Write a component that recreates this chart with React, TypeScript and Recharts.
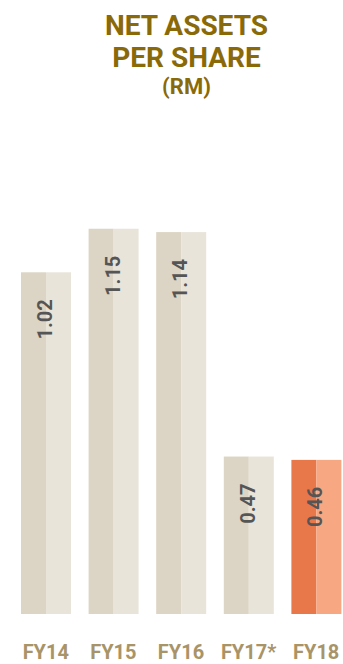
import { BarChart, Bar, XAxis, YAxis, LabelList } from "recharts";

const years = ["FY14", "FY15", "FY16", "FY17*", "FY18"];
const netAssets = [1.02, 1.15, 1.14, 0.47, 0.46];
const highlight = [false, false, false, false, true];

const data = years.map((year, i) => ({ year, value: netAssets[i], hl: highlight[i] }));

const TwoToneBar = (props: any) => {
  const { x, y, width, height, payload } = props;
  const dark = payload.hl ? "#E8774A" : "#DCD4C4";
  const light = payload.hl ? "#F7A882" : "#E8E4DA";
  const half = width / 2;
  return (
    <g>
      <rect x={x} y={y} width={half} height={height} fill={dark} />
      <rect x={x + half} y={y} width={width - half} height={height} fill={light} />
    </g>
  );
};

const ValueLabel = (props: any) => {
  const { x, y, width, value } = props;
  const cx = x + width / 2 - 1;
  const cy = y + 47;
  return (
    <text
      x={cx}
      y={cy}
      transform={`rotate(-90 ${cx} ${cy})`}
      textAnchor="middle"
      dominantBaseline="central"
      fontSize={20}
      fontWeight={700}
      fill="#555555"
      fontFamily="Roboto"
    >
      {value.toFixed(2)}
    </text>
  );
};

const YearTick = (props: any) => {
  const { x, payload } = props;
  return (
    <text x={x} y={659} textAnchor="middle" fontSize={20} fontWeight={700} fill="#A89467" fontFamily="Roboto">
      {payload.value}
    </text>
  );
};

const titleLine = { fontSize: 28, lineHeight: "32px", height: 32 };

export default function App() {
  return (
    <div style={{ position: "absolute", left: 0, top: 0, width: 343, height: 664, overflow: "hidden", background: "#fff", fontFamily: "Roboto" }}>
      <div
        style={{
          position: "absolute",
          left: 30,
          width: 313,
          top: 10,
          textAlign: "center",
          color: "#8A6A08",
          fontWeight: 700,
        }}
      >
        <div style={titleLine}>NET ASSETS</div>
        <div style={titleLine}>PER SHARE</div>
        <div style={{ fontSize: 22, lineHeight: "26px" }}>(RM)</div>
      </div>
      <BarChart width={350} height={664} data={data} margin={{ top: 212, right: 0, left: 12, bottom: 0 }}>
        <XAxis dataKey="year" axisLine={false} tickLine={false} height={50} tick={<YearTick />} interval={0} />
        <YAxis hide domain={[0, 1.2]} />
        <Bar dataKey="value" barSize={50} shape={<TwoToneBar />} isAnimationActive={false}>
          <LabelList dataKey="value" content={<ValueLabel />} />
        </Bar>
      </BarChart>
    </div>
  );
}
